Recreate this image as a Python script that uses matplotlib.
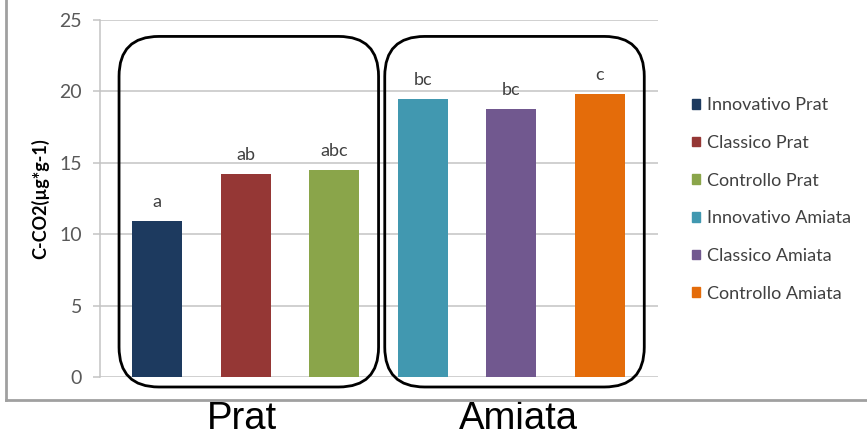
import matplotlib
matplotlib.use("Agg")
from matplotlib import pyplot as plt
from matplotlib.patches import FancyBboxPatch
from matplotlib.lines import Line2D

# respirazione del suolo, C-CO2 per trattamento e sito
labels = ["Innovativo Prat", "Classico Prat", "Controllo Prat",
          "Innovativo Amiata", "Classico Amiata", "Controllo Amiata"]
values = [10.9, 14.2, 14.5, 19.45, 18.75, 19.8]
letters = ["a", "ab", "abc", "bc", "bc", "c"]
colors = ["#1d3a5f", "#953735", "#8aa54a", "#4198b0", "#71588f", "#e46c0a"]
groups = {"Prat": (0, 2), "Amiata": (3, 5)}

yticks = [0, 5, 10, 15, 20, 25]

plt.rcParams['font.family'] = ['Lato', 'DejaVu Sans']

fig = plt.figure(figsize=(8.67, 4.40), dpi=100)
ax = fig.add_axes([100 / 867, 63 / 440, 558 / 867, 357 / 440])

x = list(range(len(values)))
bars = ax.bar(x, values, width=0.565, color=colors, zorder=3)

for xi, v, lt in zip(x, values, letters):
    ax.annotate(lt, (xi, v), xytext=(0, 8), textcoords="offset points",
                ha="center", va="bottom", fontsize=13, color="#404040")

ax.set_xlim(-0.645, 5.655)
ax.set_ylim(0, 25)
ax.set_yticks(yticks)
ax.set_xticks([])
ax.yaxis.grid(True, color="#c3c3c3", linewidth=1.1, zorder=0)
for s in ["top", "right", "bottom"]:
    ax.spines[s].set_visible(False)
ax.spines["left"].set_color("#c3c3c3")
ax.spines["left"].set_linewidth(1.1)
ax.tick_params(axis="y", length=5, width=1.1, color="#c3c3c3", pad=8,
               labelsize=14, labelcolor="#595959")
ax.set_ylabel("C-CO2(µg*g-1)", fontsize=13, fontweight="bold", labelpad=7)

# riquadri arrotondati attorno ai due siti
fig.canvas.draw()
p0 = ax.transData.transform((0, 0))
p1 = ax.transData.transform((1, 1))
aspect = (p1[0] - p0[0]) / (p1[1] - p0[1])
name_shift = {"Prat": -0.08, "Amiata": 0.04}
for name, (i0, i1) in groups.items():
    left, right = i0 - 0.43, i1 + 0.5
    bottom, top = -0.7, 23.85
    box = FancyBboxPatch((left, bottom), right - left, top - bottom,
                         boxstyle="round,pad=0,rounding_size=0.45",
                         mutation_aspect=aspect, fill=False,
                         edgecolor="black", linewidth=2, clip_on=False, zorder=4)
    ax.add_patch(box)
    ax.text((left + right) / 2 + name_shift[name], -0.118, name,
            transform=ax.get_xaxis_transform(),
            ha="center", va="center", fontsize=27.5, family="Liberation Sans")

handles = [plt.Rectangle((0, 0), 1, 1, color=c) for c in colors]
fig.legend(handles, labels, loc="upper left", bbox_to_anchor=(676 / 867, 1 - 81 / 440),
           frameon=False, fontsize=13, handlelength=0.45, handleheight=0.45,
           handletextpad=0.35, labelspacing=1.2, labelcolor="#404040")

# cornice del grafico
fig.add_artist(Line2D([6 / 867, 6 / 867], [1, 1 - 400 / 440], color="#a0a0a0", lw=2))
fig.add_artist(Line2D([6 / 867, 1], [1 - 400 / 440, 1 - 400 / 440], color="#a0a0a0", lw=2))

fig.savefig("out.png", dpi=100)
